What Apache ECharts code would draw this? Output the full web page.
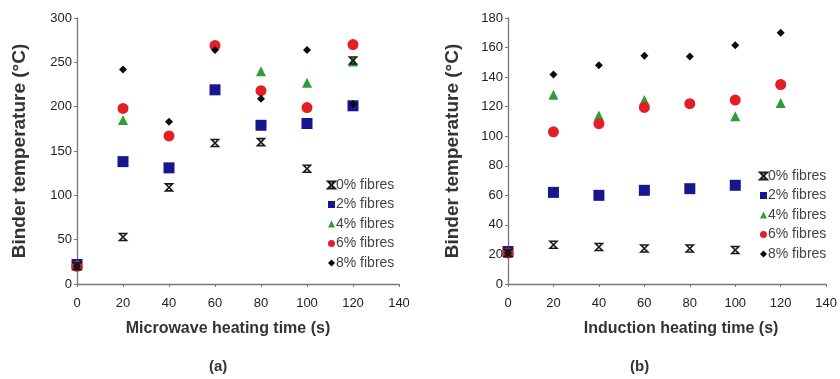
<!DOCTYPE html>
<html><head><meta charset="utf-8">
<script src="https://cdn.jsdelivr.net/npm/echarts@6/dist/echarts.min.js"></script>
<style>html,body{margin:0;padding:0;background:#fff}#c{width:840px;height:379px}</style>
</head><body><div id="c"></div>
<script>
const times = [0, 20, 40, 60, 80, 100, 120];
const seriesNames = ['0% fibres', '2% fibres', '4% fibres', '6% fibres', '8% fibres'];
// (a) Microwave heating
const mw0 = [20, 53, 109, 159, 160, 130, 252];
const mw2 = [22, 138, 131, 219, 179, 181, 201];
const mw4 = [22, 185, null, null, 240, 227, 251];
const mw6 = [20, 198, 167, 269, 218, 199, 270];
const mw8 = [20, 242, 183, 264, 209, 264, 203];
// (b) Induction heating
const in0 = [21, 26.6, 25, 24, 24, 23, null];
const in2 = [22, 62, 60, 63.4, 64.5, 66.8, null];
const in4 = [21, 128, 114, 124.5, null, 113.5, 122.5];
const in6 = [21, 103, 108.5, 119.5, 122, 124.5, 135];
const in8 = [21, 141.7, 148, 154.5, 154, 161.5, 170];
const xTicks = [0, 20, 40, 60, 80, 100, 120, 140];
const yTicksA = [0, 50, 100, 150, 200, 250, 300];
const yTicksB = [0, 20, 40, 60, 80, 100, 120, 140, 160, 180];

const xSym = 'path://M0,0L10,0L0,10L10,10Z';
const styles = [
  {symbol: xSym, size: 7, color: 'rgba(0,0,0,0)', border: '#1a1a1a', bw: 1.6},
  {symbol: 'rect', size: 11, color: '#16168f'},
  {symbol: 'triangle', size: 10, color: '#2f9e3a'},
  {symbol: 'circle', size: 11, color: '#e41e26'},
  {symbol: 'diamond', size: 8, color: '#0a0a0a'}
];
const dataA = [mw0, mw2, mw4, mw6, mw8];
const dataB = [in0, in2, in4, in6, in8];

function mk(arr, gi) {
  return arr.map((vals, i) => ({
    name: seriesNames[i], type: 'scatter', xAxisIndex: gi, yAxisIndex: gi,
    symbol: styles[i].symbol, symbolSize: styles[i].size,
    z: i === 0 ? 3 : 2,
    itemStyle: {color: styles[i].color, borderColor: styles[i].border || styles[i].color, borderWidth: styles[i].bw || 0, opacity: 1},
    data: times.map((t, k) => vals[k] == null ? null : [t, vals[k]]).filter(d => d)
  }));
}
const font = 'Liberation Sans';
const axisCommon = {
  axisLine: {show: true, lineStyle: {color: '#777', width: 1.3}},
  axisTick: {show: true, length: 3, lineStyle: {color: '#777'}},
  splitLine: {show: false}
};
function xAx(gi, name, pad) {
  return Object.assign({}, axisCommon, {
    gridIndex: gi, type: 'value', min: xTicks[0], max: xTicks[xTicks.length - 1], interval: 20,
    name: name, nameLocation: 'middle', nameGap: 37,
    nameTextStyle: {fontFamily: font, fontSize: 16, fontWeight: 'bold', color: '#333', padding: pad},
    axisLabel: {color: '#222', fontFamily: font, fontSize: 13, margin: 13}
  });
}
function yAx(gi, ticks) {
  return Object.assign({}, axisCommon, {
    gridIndex: gi, type: 'value', min: ticks[0], max: ticks[ticks.length - 1], interval: ticks[1] - ticks[0],
    name: 'Binder temperature (°C)', nameLocation: 'middle', nameGap: gi === 0 ? 48 : 46, nameRotate: 90,
    nameTextStyle: {fontFamily: font, fontSize: 19, fontWeight: 'bold', color: '#333'},
    axisLabel: {color: '#222', fontFamily: font, fontSize: 13, margin: 5}
  });
}
function legend(left, top) {
  return {
    data: seriesNames, orient: 'vertical', left: left, top: top,
    itemWidth: 7, itemHeight: 7, itemGap: 5.5, padding: 0,
    backgroundColor: '#fff',
    textStyle: {fontFamily: font, fontSize: 14, color: '#444', lineHeight: 14, padding: [0, 0, 0, -4]}
  };
}
const chart = echarts.init(document.getElementById('c'), null, {renderer: 'canvas'});
chart.setOption({
  animation: false,
  grid: [
    {left: 77, top: 18, width: 322, height: 266},
    {left: 508, top: 18, width: 322, height: 266}
  ],
  xAxis: [xAx(0, 'Microwave heating time (s)', [0, 20, 0, 0]), xAx(1, 'Induction heating time (s)', [0, 0, 0, 28])],
  yAxis: [yAx(0, yTicksA), yAx(1, yTicksB)],
  legend: [legend(327, 178), legend(759, 169)],
  graphic: [
    {type: 'text', left: 209, top: 359, style: {text: '(a)', font: 'bold 15px Liberation Sans', fill: '#333'}},
    {type: 'text', left: 630, top: 359, style: {text: '(b)', font: 'bold 15px Liberation Sans', fill: '#333'}}
  ],
  series: mk(dataA, 0).concat(mk(dataB, 1))
});
</script></body></html>
